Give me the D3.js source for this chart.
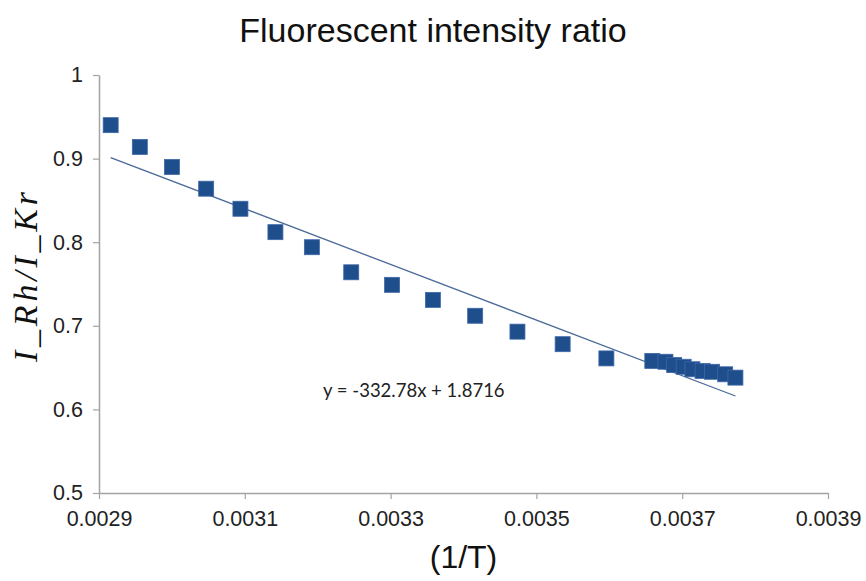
<!DOCTYPE html>
<html>
<meta charset="utf-8" />
<script src="https://d3js.org/d3.v7.min.js"></script>
<style>
  body { margin: 0; background: #fff; }
  #chart text { font-family: "Liberation Sans", Arial, sans-serif; }
</style>
<body>
<div id="chart"></div>
<script>
// values
var invT = [0.002916, 0.002956, 0.003000, 0.003047, 0.003094, 0.003142, 0.003192,
            0.003246, 0.003302, 0.003358, 0.003416, 0.003474, 0.003536, 0.003596,
            0.003659, 0.003677, 0.003689, 0.003702, 0.003714, 0.003728, 0.003741,
            0.003759, 0.003773];
var ratio = [0.940, 0.914, 0.890, 0.864, 0.840, 0.812, 0.794,
             0.764, 0.749, 0.731, 0.712, 0.693, 0.678, 0.661,
             0.658, 0.657, 0.653, 0.651, 0.648, 0.646, 0.645,
             0.642, 0.638];
var xTicks = [0.0029, 0.0031, 0.0033, 0.0035, 0.0037, 0.0039];
var yTicks = [0.5, 0.6, 0.7, 0.8, 0.9, 1];
var slope = -332.78, intercept = 1.8716;
var eqLabel = "y = -332.78x + 1.8716";

var width = 866, height = 581;
var svg = d3.select("#chart").append("svg")
    .attr("width", width)
    .attr("height", height);

var x = d3.scaleLinear().domain([0.0029, 0.0039]).range([99, 828]);
var y = d3.scaleLinear().domain([0.5, 1]).range([493, 75]);

// axes
var xAxis = svg.append("g")
    .attr("transform", "translate(0," + y(0.5) + ")")
    .call(d3.axisBottom(x).tickValues(xTicks).tickFormat(d3.format("~g"))
      .tickSize(6).tickSizeOuter(0).tickPadding(12));
var yAxis = svg.append("g")
    .attr("transform", "translate(" + x(0.0029) + ",0)")
    .call(d3.axisLeft(y).tickValues(yTicks).tickFormat(d3.format("~g"))
      .tickSize(6).tickSizeOuter(0).tickPadding(10));

[xAxis, yAxis].forEach(function(g) {
  g.select(".domain").attr("stroke", "#a3a3a3").attr("stroke-width", 1.5);
  g.selectAll(".tick line").attr("stroke", "#a3a3a3").attr("stroke-width", 1.2);
  g.selectAll(".tick text").attr("fill", "#222").style("font-size", "21.5px");
});

// trend line
var x0 = d3.min(invT), x1 = d3.max(invT);
svg.append("path")
  .datum([x0, x1])
  .attr("fill", "none")
  .attr("stroke", "#4a6a98")
  .attr("stroke-width", 1.3)
  .attr("d", d3.line()
    .x(function(d) { return x(d); })
    .y(function(d) { return y(slope * d + intercept); }));

// points
var size = 15;
svg.append("g").selectAll("rect")
  .data(invT)
  .enter()
  .append("rect")
  .attr("x", function(d) { return x(d) - size / 2; })
  .attr("y", function(d, i) { return y(ratio[i]) - size / 2; })
  .attr("width", size)
  .attr("height", size)
  .attr("fill", "#1f4e8c")
  .attr("stroke", "#3e68a6")
  .attr("stroke-width", 0.8);

// equation
svg.append("text")
  .attr("x", 323)
  .attr("y", 397)
  .attr("fill", "#222")
  .style("font-family", "Lato, 'Open Sans', sans-serif")
  .style("font-size", "18.5px")
  .text(eqLabel);

// titles
svg.append("text")
  .attr("x", width / 2)
  .attr("y", 42)
  .attr("text-anchor", "middle")
  .attr("fill", "#111")
  .style("font-size", "34px")
  .text("Fluorescent intensity ratio");

svg.append("text")
  .attr("x", (x.range()[0] + x.range()[1]) / 2)
  .attr("y", 568)
  .attr("text-anchor", "middle")
  .attr("fill", "#111")
  .style("font-size", "32px")
  .text("(1/T)");

svg.append("text")
  .attr("transform", "translate(37,277) rotate(-90)")
  .attr("text-anchor", "middle")
  .attr("fill", "#111")
  .attr("textLength", 170)
  .attr("lengthAdjust", "spacing")
  .style("font-family", "'Liberation Serif', 'DejaVu Serif', serif")
  .style("font-style", "italic")
  .style("font-size", "34px")
  .text("I_Rh/I_Kr");
</script>
</body>
</html>
